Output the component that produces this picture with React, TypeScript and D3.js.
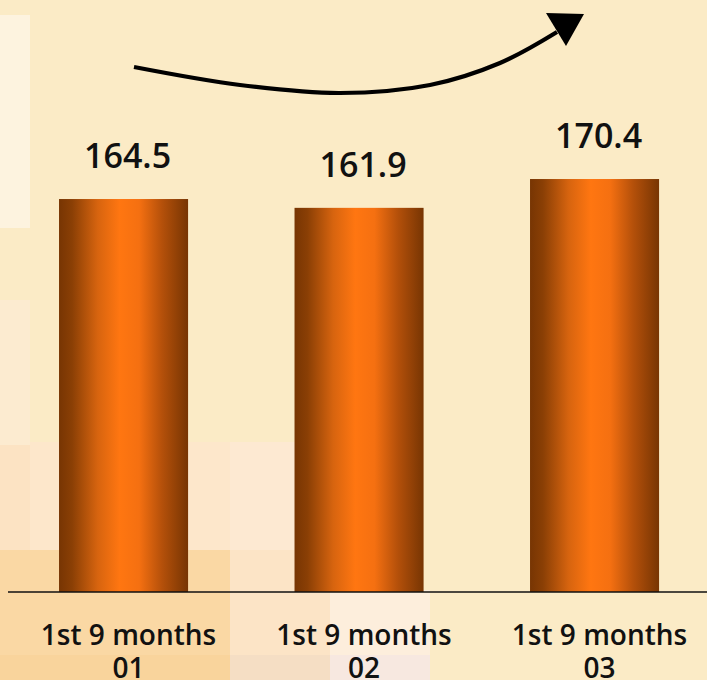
import React from "react";
import * as d3 from "d3";

const categories = ["1st 9 months|01", "1st 9 months|02", "1st 9 months|03"];
const values = [164.5, 161.9, 170.4];

const W = 707;
const H = 680;

export default function App() {
  const x = d3
    .scaleBand<string>()
    .domain(categories)
    .range([5.8, 712.3])
    .paddingInner(0.452)
    .paddingOuter(0.226);
  const y = d3.scaleLinear().domain([48.6, 223.2]).range([592, 0]);

  const arrowPts: [number, number][] = [
    [134, 67],
    [240, 85],
    [340, 93],
    [430, 85],
    [500, 63],
    [557, 32],
  ];
  const arrowPath = d3.line().curve(d3.curveCatmullRom.alpha(0.5))(arrowPts) || "";

  const bgBlocks = [
    { x: 0, y: 15, w: 30, h: 213, c: "#FDF3DF" },
    { x: 0, y: 300, w: 30, h: 145, c: "#FCEBD0" },
    { x: 0, y: 445, w: 30, h: 105, c: "#FCE3C3" },
    { x: 30, y: 442, w: 200, h: 108, c: "#FDE7CB" },
    { x: 0, y: 550, w: 230, h: 105, c: "#FAD8A4" },
    { x: 0, y: 655, w: 230, h: 25, c: "#F9D49C" },
    { x: 230, y: 442, w: 100, h: 108, c: "#FDE9D2" },
    { x: 230, y: 550, w: 100, h: 105, c: "#FCE4C6" },
    { x: 230, y: 655, w: 100, h: 25, c: "#F5DEC4" },
    { x: 330, y: 590, w: 100, h: 65, c: "#FDEEDC" },
    { x: 330, y: 655, w: 100, h: 25, c: "#F7E8E0" },
  ];

  return (
    <svg
      width={W}
      height={H}
      style={{ position: "absolute", left: 0, top: 0, display: "block" }}
      fontFamily="'Open Sans', 'DejaVu Sans', sans-serif"
    >
      <defs>
        <linearGradient id="barGrad" x1="0" x2="1" y1="0" y2="0">
          <stop offset="0%" stopColor="#773503" />
          <stop offset="10%" stopColor="#8a3f05" />
          <stop offset="30%" stopColor="#d7640f" />
          <stop offset="47%" stopColor="#ff7611" />
          <stop offset="62%" stopColor="#f57011" />
          <stop offset="80%" stopColor="#b4500a" />
          <stop offset="100%" stopColor="#773503" />
        </linearGradient>
      </defs>
      <rect x={0} y={0} width={W} height={H} fill="#FBEBC6" />
      {bgBlocks.map((b, i) => (
        <rect key={i} x={b.x} y={b.y} width={b.w} height={b.h} fill={b.c} />
      ))}

      <path d={arrowPath} fill="none" stroke="#000" strokeWidth={4.2} strokeLinecap="butt" />
      <polygon points="584,14 546,13 566,46" fill="#000" />

      {categories.map((c, i) => (
        <rect
          key={c}
          x={x(c)}
          y={y(values[i])}
          width={x.bandwidth()}
          height={y(y.domain()[0]) - y(values[i])}
          fill="url(#barGrad)"
        />
      ))}

      {categories.map((c, i) => (
        <text
          key={"v" + c}
          x={(x(c) as number) + x.bandwidth() / 2 + 4}
          y={y(values[i]) - 31}
          textAnchor="middle"
          fontSize={34}
          fontWeight={600}
          fill="#111"
        >
          {values[i].toFixed(1)}
        </text>
      ))}

      <line x1={8} x2={W} y1={592} y2={592} stroke="#111" strokeWidth={1.5} />

      {categories.map((c) => {
        const lines = c.split("|");
        const cx = (x(c) as number) + x.bandwidth() / 2 + 5;
        return lines.map((l, j) => (
          <text
            key={"c" + c + j}
            x={cx}
            y={645 + j * 33}
            textAnchor="middle"
            fontSize={28}
            fontWeight={600}
            fill="#111"
          >
            {l}
          </text>
        ));
      })}
    </svg>
  );
}
